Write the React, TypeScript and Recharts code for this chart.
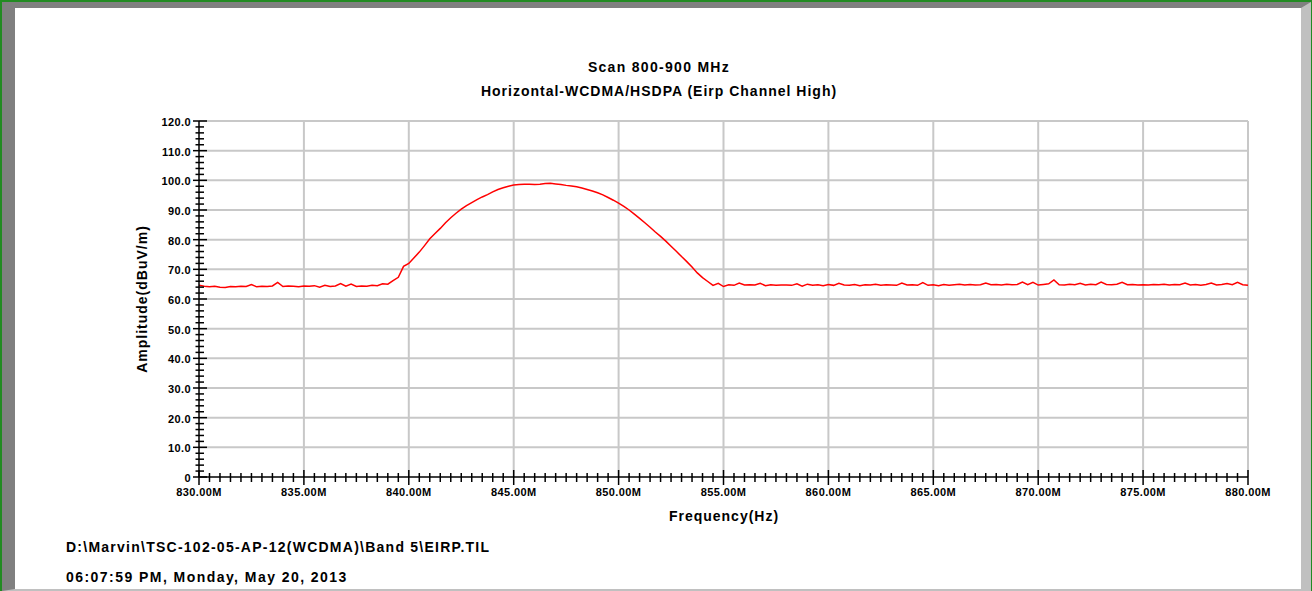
import React from 'react';
import { LineChart, Line, XAxis, YAxis, ReferenceLine } from 'recharts';

// Sampling grid of the trace (MHz)
const START_MHZ = 830;
const STEP_MHZ = 0.25;

// Amplitude (dBuV/m), one value per 0.25 MHz, 830.00 .. 880.00 MHz
const amplitude: number[] = [
  64.6, 64.3, 64.1, 64.3, 64.0, 63.9, 64.2, 64.1, 64.3, 64.2, // 830.00 - 832.25
  64.9, 64.1, 64.3, 64.2, 64.4, 65.6, 64.2, 64.4, 64.3, 64.1, // 832.50 - 834.75
  64.4, 64.3, 64.5, 64.0, 64.6, 64.2, 64.4, 65.2, 64.3, 65.0, // 835.00 - 837.25
  64.2, 64.4, 64.3, 64.6, 64.5, 65.1, 65.0, 66.2, 67.3, 71.0, // 837.50 - 839.75
  72.0, 73.9, 75.8, 78.0, 80.3, 82.1, 83.8, 85.7, 87.4, 88.9, // 840.00 - 842.25
  90.3, 91.5, 92.5, 93.5, 94.4, 95.2, 96.1, 96.9, 97.5, 98.0, // 842.50 - 844.75
  98.4, 98.6, 98.7, 98.7, 98.6, 98.7, 98.9, 99.0, 98.8, 98.6, // 845.00 - 847.25
  98.3, 98.1, 97.8, 97.4, 96.9, 96.4, 95.8, 95.1, 94.2, 93.3, // 847.50 - 849.75
  92.3, 91.2, 90.0, 88.6, 87.2, 85.7, 84.2, 82.6, 81.1, 79.5, // 850.00 - 852.25
  77.8, 76.1, 74.3, 72.6, 70.8, 68.8, 67.2, 65.9, 64.6, 65.3, // 852.50 - 854.75
  64.2, 64.8, 64.6, 65.4, 64.7, 64.8, 64.7, 65.3, 64.5, 64.8, // 855.00 - 857.25
  64.6, 64.7, 64.7, 64.6, 65.1, 64.3, 65.0, 64.6, 64.8, 64.5, // 857.50 - 859.75
  64.9, 64.6, 65.3, 64.7, 64.6, 64.9, 64.5, 64.8, 64.7, 65.0, // 860.00 - 862.25
  64.6, 64.8, 64.7, 64.6, 65.4, 64.7, 64.8, 64.6, 65.5, 64.6, // 862.50 - 864.75
  64.8, 64.5, 64.9, 64.6, 64.8, 65.0, 64.7, 64.9, 64.7, 64.8, // 865.00 - 867.25
  65.4, 64.8, 64.9, 64.7, 65.0, 64.8, 64.9, 65.7, 64.8, 65.6, // 867.50 - 869.75
  64.7, 64.9, 65.1, 66.4, 64.8, 64.7, 65.0, 64.8, 65.3, 64.7, // 870.00 - 872.25
  65.0, 64.8, 65.7, 64.9, 64.8, 65.0, 65.6, 64.8, 64.9, 64.7, // 872.50 - 874.75
  64.8, 64.7, 64.9, 64.8, 65.0, 64.7, 64.9, 64.8, 65.4, 64.7, // 875.00 - 877.25
  64.9, 64.6, 64.9, 65.4, 64.7, 64.9, 65.2, 64.8, 65.6, 64.8, // 877.50 - 879.75
  64.6,                                                       // 880.00
];

const xMajorTicks = [830, 835, 840, 845, 850, 855, 860, 865, 870, 875, 880];
const yMajorTicks = [0, 10, 20, 30, 40, 50, 60, 70, 80, 90, 100, 110, 120];
const X_MINOR_STEP = 0.5;
const Y_MINOR_STEP = 2;

const titleLines = ['Scan 800-900 MHz', 'Horizontal-WCDMA/HSDPA (Eirp Channel High)'];
const xAxisTitle = 'Frequency(Hz)';
const yAxisTitle = 'Amplitude(dBuV/m)';
const footerLines = [
  'D:\\Marvin\\TSC-102-05-AP-12(WCDMA)\\Band 5\\EIRP.TIL',
  '06:07:59 PM, Monday, May 20, 2013',
];

const data = amplitude.map((a, i) => ({ f: START_MHZ + i * STEP_MHZ, amp: a }));

const xTicks: number[] = [];
for (let k = 0; k <= (880 - 830) / X_MINOR_STEP; k++) xTicks.push(830 + k * X_MINOR_STEP);
const yTicks: number[] = [];
for (let k = 0; k <= 120 / Y_MINOR_STEP; k++) yTicks.push(k * Y_MINOR_STEP);

const FONT = '"Liberation Sans", Arial, Helvetica, sans-serif';
const GRID = '#c8c8c8';

const XTick = (props: any) => {
  const { x, y, payload } = props;
  const v = payload.value as number;
  const major = xMajorTicks.some((m) => Math.abs(m - v) < 1e-6);
  return (
    <g>
      <line x1={x} x2={x} y1={major ? y - 7 : y - 4} y2={major ? y + 8 : y + 5} stroke="#000" strokeWidth={1.5} />
      {major && (
        <text x={x} y={y + 19} textAnchor="middle" fontFamily={FONT} fontSize={11} fontWeight="bold" letterSpacing={0.4} fill="#000">
          {v.toFixed(2) + 'M'}
        </text>
      )}
    </g>
  );
};

const YTick = (props: any) => {
  const { x, y, payload } = props;
  const v = payload.value as number;
  const major = yMajorTicks.includes(v);
  return (
    <g>
      <line x1={major ? x - 6 : x - 3.5} x2={major ? x + 8 : x + 5} y1={y} y2={y} stroke="#000" strokeWidth={1.5} />
      {major && (
        <text x={x - 8} y={y + 5} textAnchor="end" fontFamily={FONT} fontSize={11} fontWeight="bold" letterSpacing={0.4} fill="#000">
          {v === 0 ? '0' : v.toFixed(1)}
        </text>
      )}
    </g>
  );
};

export default function App() {
  const W = 1312;
  const H = 591;
  const textStyle = { fontFamily: FONT, fontWeight: 'bold' as const, fill: '#000' };
  return (
    <div style={{ position: 'absolute', left: 0, top: 0, width: W, height: H, background: '#228b22', overflow: 'hidden' }}>
      {/* sunken frame */}
      <div
        style={{
          position: 'absolute',
          left: 2,
          top: 2,
          width: W - 3,
          height: H - 2,
          boxSizing: 'border-box',
          borderTop: '6px solid #808080',
          borderLeft: '13px solid #808080',
          borderRight: '10px solid #c0c0c0',
          borderBottom: '2px solid #c0c0c0',
          background: '#ffffff',
        }}
      />
      <div style={{ position: 'absolute', left: 0, top: 0 }}>
        <LineChart width={W} height={H} data={data} margin={{ top: 121, right: 64, bottom: 84, left: 139 }}>
          {xMajorTicks.filter((v) => v !== 830).map((v) => (
            <ReferenceLine key={'vx' + v} x={v} stroke={GRID} strokeWidth={2} />
          ))}
          {yMajorTicks.filter((v) => v !== 0).map((v) => (
            <ReferenceLine key={'hy' + v} y={v} stroke={GRID} strokeWidth={2} />
          ))}
          <XAxis
            dataKey="f"
            type="number"
            domain={[830, 880]}
            ticks={xTicks}
            interval={0}
            height={30}
            tickSize={0}
            tickMargin={0}
            tickLine={false}
            axisLine={{ stroke: '#000', strokeWidth: 1.5 }}
            tick={<XTick />}
          />
          <YAxis
            type="number"
            domain={[0, 120]}
            ticks={yTicks}
            interval={0}
            width={60}
            tickSize={0}
            tickMargin={0}
            tickLine={false}
            axisLine={{ stroke: '#000', strokeWidth: 1.5 }}
            tick={<YTick />}
          />
          <Line type="linear" dataKey="amp" stroke="#ff0000" strokeWidth={1.5} dot={false} isAnimationActive={false} />
        </LineChart>
      </div>
      <svg width={W} height={H} style={{ position: 'absolute', left: 0, top: 0, pointerEvents: 'none' }}>
        <text x={659} y={72} textAnchor="middle" fontSize={14} letterSpacing={1.3} {...textStyle}>{titleLines[0]}</text>
        <text x={659} y={96} textAnchor="middle" fontSize={14} letterSpacing={1} {...textStyle}>{titleLines[1]}</text>
        <text x={724} y={521} textAnchor="middle" fontSize={14} letterSpacing={1} {...textStyle}>{xAxisTitle}</text>
        <text x={147} y={299} textAnchor="middle" fontSize={14} letterSpacing={1} transform="rotate(-90 147 299)" {...textStyle}>{yAxisTitle}</text>
        <text x={66} y={552} fontSize={14} letterSpacing={1.25} {...textStyle}>{footerLines[0]}</text>
        <text x={66} y={582} fontSize={14} letterSpacing={1.45} {...textStyle}>{footerLines[1]}</text>
      </svg>
    </div>
  );
}
